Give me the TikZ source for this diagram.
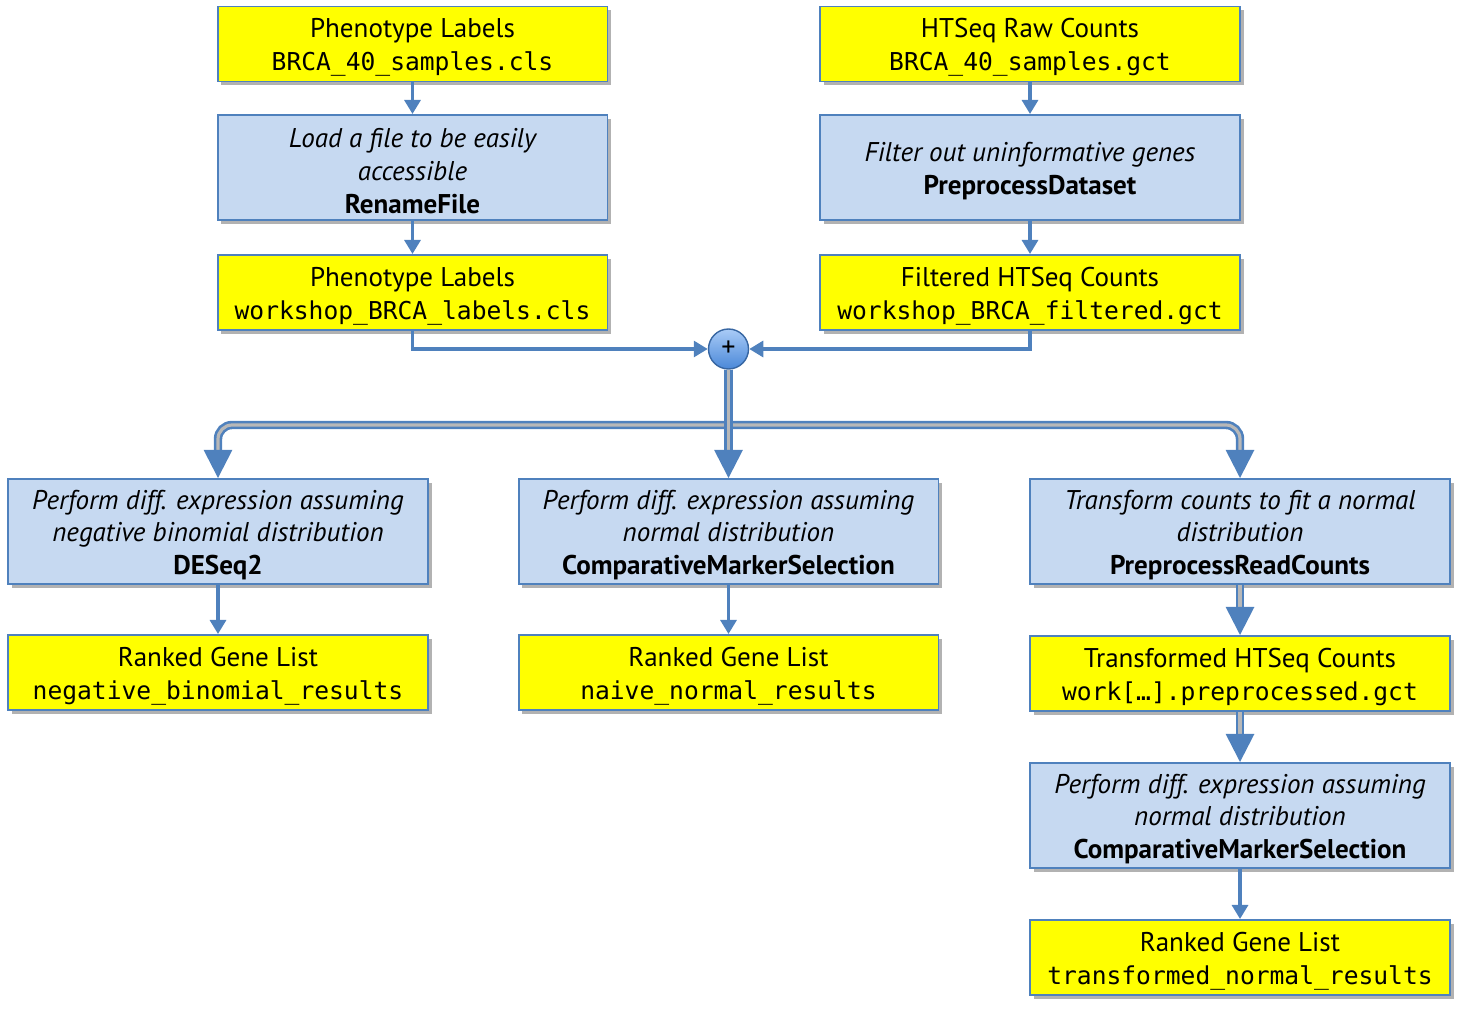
\documentclass[tikz,border=0pt]{standalone}
\usepackage{fontspec}
\setmainfont{PT Sans}
\setmonofont[Scale=0.91]{DejaVu Sans Mono}
\usetikzlibrary{arrows.meta,shadows,calc}
\definecolor{bordc}{HTML}{4F81BD}
\definecolor{taskc}{HTML}{C6D9F1}
\definecolor{linec}{HTML}{4F81BD}
\definecolor{gapc}{HTML}{B8B8B8}
\definecolor{databg}{HTML}{FFFF00}
\definecolor{plustop}{HTML}{A9CBF7}
\definecolor{plusbot}{HTML}{4A88D8}
\tikzset{
  boxbase/.style={draw=bordc, line width=1.1pt, align=center, inner sep=0pt,
    font=\fontsize{15.4}{18.7}\selectfont,
    drop shadow={shadow xshift=2.2pt, shadow yshift=-2.2pt, opacity=0.3, fill=black}},
  databox/.style={boxbase, fill=databg, minimum width=7.8cm, minimum height=1.5cm},
  databoxw/.style={boxbase, fill=databg, minimum width=8.4cm, minimum height=1.5cm},
  taskbox/.style={boxbase, fill=taskc, minimum width=7.8cm, minimum height=2.1cm},
  taskboxw/.style={boxbase, fill=taskc, minimum width=8.4cm, minimum height=2.1cm},
  plusnode/.style={circle, draw=plusbot!75!black, line width=0.8pt, minimum size=0.8cm, inner sep=0pt,
    top color=plustop, bottom color=plusbot, font=\fontsize{16}{16}\selectfont},
  single/.style={draw=linec, line width=2pt, -{Triangle[length=8pt,width=9pt]}},
  dbl/.style={draw=linec, line width=1.5pt, double=gapc, double distance=1.8pt,
    {-Triangle[length=16pt,width=16pt]}},
  dblboth/.style={draw=linec, line width=1.5pt, double=gapc, double distance=1.8pt,
    {Triangle[length=16pt,width=16pt]}-{Triangle[length=16pt,width=16pt]}},
}
\newcommand{\mn}[1]{\texttt{#1}}
\newcommand{\tl}{\rule{0pt}{15pt}}
\begin{document}
\begin{tikzpicture}[x=0.02cm,y=-0.02cm]
\path[use as bounding box] (0,0) rectangle (1466,1017);
% top row
\node[databox] (pl1) at (412.5,44) {\tl Phenotype Labels\\\mn{BRCA\_40\_samples.cls}};
\node[databoxw] (ht1) at (1030,44) {\tl HTSeq Raw Counts\\\mn{BRCA\_40\_samples.gct}};
\node[taskbox] (ren) at (412.5,167.5) {\tl\itshape Load a file to be easily\\\itshape accessible\\\bfseries RenameFile};
\node[taskboxw] (pre) at (1030,167.5) {\tl\itshape Filter out uninformative genes\\\bfseries PreprocessDataset};
\node[databox] (pl2) at (412.5,292.5) {\tl Phenotype Labels\\\mn{workshop\_BRCA\_labels.cls}};
\node[databoxw] (flt) at (1030,292.5) {\tl Filtered HTSeq Counts\\\mn{workshop\_BRCA\_filtered.gct}};
\node[plusnode] (plus) at (728.5,349) {+};
% middle row
\node[taskboxw] (des) at (218,531.5) {\tl\itshape Perform diff. expression assuming\\\itshape negative binomial distribution\\\bfseries DESeq2};
\node[taskboxw] (cms) at (728.5,531.5) {\tl\itshape Perform diff. expression assuming\\\itshape normal distribution\\\bfseries ComparativeMarkerSelection};
\node[taskboxw] (prc) at (1240,531.5) {\tl\itshape Transform counts to fit a normal\\\itshape distribution\\\bfseries PreprocessReadCounts};
\node[databoxw] (rk1) at (218,672.5) {\tl Ranked Gene List\\\mn{negative\_binomial\_results}};
\node[databoxw] (rk2) at (728.5,672.5) {\tl Ranked Gene List\\\mn{naive\_normal\_results}};
\node[databoxw] (trn) at (1240,673.5) {\tl Transformed HTSeq Counts\\\mn{work[…].preprocessed.gct}};
\node[taskboxw] (cms2) at (1240,815.5) {\tl\itshape Perform diff. expression assuming\\\itshape normal distribution\\\bfseries ComparativeMarkerSelection};
\node[databoxw] (rk3) at (1240,957.5) {\tl Ranked Gene List\\\mn{transformed\_normal\_results}};
\coordinate (bar) at (728.5,425);
% connectors
\draw[single] (pl1) -- (ren);
\draw[single] (ht1) -- (pre);
\draw[single] (ren) -- (pl2);
\draw[single] (pre) -- (flt);
\draw[single] (pl2.south) |- (plus.west);
\draw[single] (flt.south) |- (plus.east);
\draw[dblboth, rounded corners=8pt] (des.north) |- (bar) -| (prc.north);
\draw[dbl] (plus.south) -- (cms.north);
\draw[single] (des) -- (rk1);
\draw[single] (cms) -- (rk2);
\draw[dbl] (prc) -- (trn);
\draw[dbl] (trn) -- (cms2);
\draw[single] (cms2) -- (rk3);
\end{tikzpicture}
\end{document}
